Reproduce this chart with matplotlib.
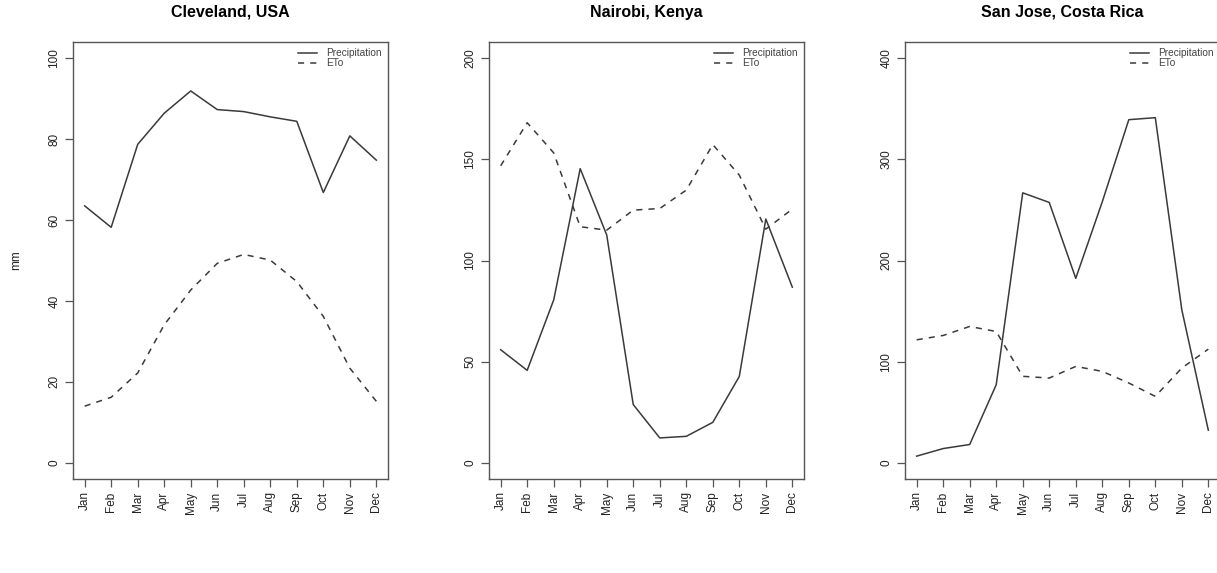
import matplotlib.pyplot as plt

plt.rcParams['font.family'] = ['Liberation Sans', 'DejaVu Sans']

months = ["Jan", "Feb", "Mar", "Apr", "May", "Jun",
          "Jul", "Aug", "Sep", "Oct", "Nov", "Dec"]

cities = ["Cleveland, USA", "Nairobi, Kenya", "San Jose, Costa Rica"]
y_max = [100, 200, 400]
y_ticks = [[0, 20, 40, 60, 80, 100],
           [0, 50, 100, 150, 200],
           [0, 100, 200, 300, 400]]

# monthly precipitation and reference evapotranspiration (mm)
cleveland_precip = [63.5, 58.2, 78.7, 86.4, 91.9, 87.3, 86.8, 85.5, 84.4, 66.8, 80.8, 74.8]
cleveland_eto = [14.0, 16.2, 22.2, 34.1, 42.7, 49.3, 51.5, 50.1, 44.8, 36.2, 23.4, 15.2]
nairobi_precip = [55.9, 45.7, 80.5, 145.4, 112.6, 28.8, 12.3, 13.1, 20.0, 42.7, 120.5, 86.8]
nairobi_eto = [146.8, 168.1, 153.2, 116.7, 115.0, 124.9, 125.7, 134.8, 157.3, 142.2, 115.5, 125.4]
sanjose_precip = [6.6, 14.1, 18.1, 77.2, 266.9, 257.4, 182.4, 258.0, 339.2, 341.2, 151.2, 32.2]
sanjose_eto = [121.6, 125.9, 134.8, 129.8, 85.5, 83.8, 95.3, 90.4, 78.9, 65.7, 93.7, 112.4]

precip = [cleveland_precip, nairobi_precip, sanjose_precip]
eto = [cleveland_eto, nairobi_eto, sanjose_eto]

W, H = 1217, 573
fig = plt.figure(figsize=(W / 100, H / 100), dpi=100)
lefts = [73, 489, 905]
box_w, top, bottom = 315, 42, 479
line_col = '#3a3a3a'
box_col = '#555555'

x = list(range(1, 13))
for i in range(3):
    ax = fig.add_axes([lefts[i] / W, 1 - bottom / H, box_w / W, (bottom - top) / H])
    ax.plot(x, precip[i], color=line_col, lw=1.1, label='Precipitation')
    ax.plot(x, eto[i], color=line_col, lw=1.1, ls=(0, (4, 4)), label='ETo')
    ax.set_xlim(1 - 0.44, 12 + 0.44)
    ax.set_ylim(-0.04 * y_max[i], 1.04 * y_max[i])
    ax.set_xticks(x)
    ax.set_xticklabels(months, rotation=90, fontsize=8.5, color='#222222')
    ax.set_yticks(y_ticks[i])
    ax.set_yticklabels([str(t) for t in y_ticks[i]], rotation=90, va='center',
                       fontsize=8.5, color='#222222')
    ax.tick_params(direction='out', length=6, width=0.9, color=box_col, pad=3)
    for s in ax.spines.values():
        s.set_color(box_col)
        s.set_linewidth(1.0)
    # title centred over the box at a fixed height
    fig.text((lefts[i] + box_w / 2) / W, 1 - 12 / H, cities[i], ha='center',
             va='center', fontsize=11.5, fontweight='bold')
    ax.legend(loc='upper right', frameon=False, fontsize=7.3, handlelength=1.9,
              borderaxespad=0.2, labelspacing=0.0, handletextpad=0.9,
              labelcolor='#444444')
    if i == 0:
        ax.set_ylabel('mm', fontsize=8.5, labelpad=19, color='#222222')

fig.savefig('out.png', dpi=100)
